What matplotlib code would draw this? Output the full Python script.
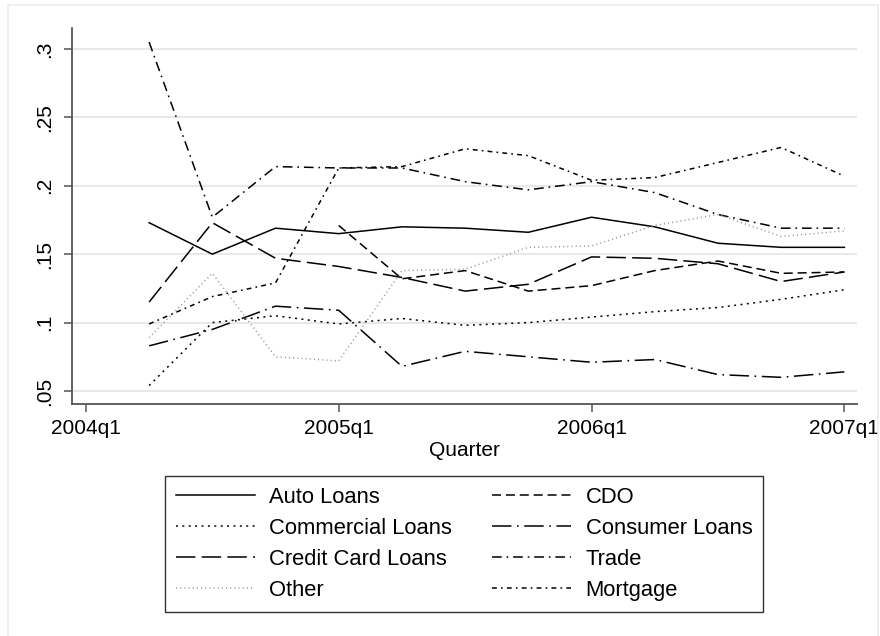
import numpy as np
import matplotlib
matplotlib.use("Agg")
import matplotlib.pyplot as plt
import matplotlib.patches as mpatches

plt.rcParams['font.family'] = ['Liberation Sans', 'DejaVu Sans']
plt.rcParams['lines.scale_dashes'] = False

# quarters since 2004q1 (1 = 2004q2 ... 12 = 2007q1)
quarters = np.arange(1, 13)
tick_pos = [0, 4, 8, 12]
tick_labels = ["2004q1", "2005q1", "2006q1", "2007q1"]

auto_loans = [0.173, 0.150, 0.169, 0.165, 0.170, 0.169, 0.166, 0.177, 0.170, 0.158, 0.155, 0.155]
cdo = [np.nan, np.nan, np.nan, 0.171, 0.132, 0.138, 0.123, 0.127, 0.138, 0.145, 0.136, 0.137]
commercial_loans = [0.054, 0.100, 0.105, 0.099, 0.103, 0.098, 0.100, 0.104, 0.108, 0.111, 0.117, 0.124]
consumer_loans = [0.083, 0.095, 0.112, 0.109, 0.068, 0.079, 0.075, 0.071, 0.073, 0.062, 0.060, 0.064]
credit_card_loans = [0.115, 0.173, 0.147, 0.141, 0.133, 0.123, 0.128, 0.148, 0.147, 0.143, 0.130, 0.137]
trade = [0.305, 0.177, 0.214, 0.213, 0.213, 0.203, 0.197, 0.203, 0.195, 0.179, 0.169, 0.169]
other = [0.089, 0.136, 0.075, 0.072, 0.138, 0.139, 0.155, 0.156, 0.171, 0.179, 0.163, 0.167]
mortgage = [0.099, 0.119, 0.129, 0.213, 0.214, 0.227, 0.222, 0.204, 0.206, 0.217, 0.228, 0.207]

series = [
    ("Auto Loans", auto_loans, "black", None),
    ("CDO", cdo, "black", (6.5, 3.5)),
    ("Commercial Loans", commercial_loans, "black", (1.4, 3.2)),
    ("Consumer Loans", consumer_loans, "black", (14, 4, 1.2, 4)),
    ("Credit Card Loans", credit_card_loans, "black", (14, 4.5)),
    ("Trade", trade, "black", (7, 3.5, 1.2, 3.5)),
    ("Other", other, "#9a9a9a", (0.8, 2.2)),
    ("Mortgage", mortgage, "black", (3.5, 3, 1.2, 3)),
]

fig = plt.figure(figsize=(8.8, 6.36), dpi=100)
fig.patches.append(mpatches.Rectangle((8/880, -0.02), 870/880, 1.02 - 5/636,
                                      transform=fig.transFigure, fill=False,
                                      edgecolor="#ececec", lw=1.2))
ax = fig.add_axes([72/880, 1 - 404/636, 785/880, 376/636])

handles = []
for name, vals, col, dash in series:
    line, = ax.plot(quarters, vals, color=col, lw=1.1, label=name)
    if dash is not None:
        line.set_dashes(dash)
    handles.append(line)

ax.set_xlim(-0.22, 12.2)
ax.set_ylim(0.0405, 0.3153)
ax.set_yticks([0.05, 0.1, 0.15, 0.2, 0.25, 0.3])
ax.set_yticklabels([".05", ".1", ".15", ".2", ".25", ".3"], rotation=90, va="center")
ax.set_xticks(tick_pos)
ax.set_xticklabels(tick_labels)
ax.tick_params(axis="both", labelsize=15, length=6, width=1.1, color="#555555", pad=5)
ax.tick_params(axis="y", pad=7)
ax.yaxis.grid(True, color="#e8e8e8", lw=1.4)
ax.set_axisbelow(True)
for s in ["top", "right"]:
    ax.spines[s].set_visible(False)
for s in ["left", "bottom"]:
    ax.spines[s].set_color("#555555")
    ax.spines[s].set_linewidth(1.3)
ax.set_xlabel("Quarter", fontsize=15, labelpad=2)

# legend fills column by column, so reorder to read across rows
order = handles[0::2] + handles[1::2]
leg = ax.legend(handles=order, ncol=2, loc="upper center",
                bbox_to_anchor=(464/880, 1 - 476/636), bbox_transform=fig.transFigure,
                borderaxespad=0, fontsize=15.8, frameon=True,
                fancybox=False, edgecolor="black", handlelength=3.6,
                handletextpad=0.65, columnspacing=1.85, labelspacing=0.45,
                borderpad=0.5)
leg.get_frame().set_linewidth(1.0)

fig.savefig("out.png", dpi=100, facecolor="white")
